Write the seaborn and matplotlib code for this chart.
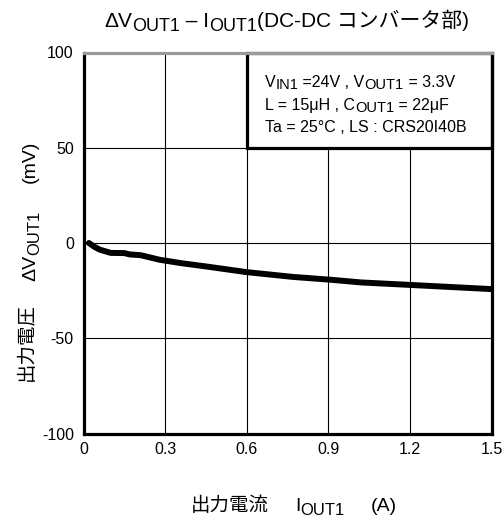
import matplotlib
matplotlib.use("Agg")
import numpy as np
import pandas as pd
import seaborn as sns
import matplotlib.pyplot as plt
from matplotlib.transforms import IdentityTransform
from matplotlib.patches import Rectangle

# ---- data ----
current_a = [0.02, 0.04, 0.06, 0.10, 0.15, 0.17, 0.21, 0.28, 0.36, 0.45,
             0.60, 0.77, 0.91, 1.02, 1.20, 1.35, 1.50]
delta_mv = [0.0, -2.0, -3.5, -5.2, -5.3, -6.0, -6.4, -8.8, -10.6, -12.3,
            -15.3, -17.8, -19.3, -20.7, -22.0, -23.1, -24.2]
x_ticks = [0, 0.3, 0.6, 0.9, 1.2, 1.5]
x_tick_labels = ["0", "0.3", "0.6", "0.9", "1.2", "1.5"]
y_ticks = [-100, -50, 0, 50, 100]
y_tick_labels = ["-100", "-50", "0", "50", "100"]

sns.set_theme(style="white")
plt.rcParams["font.family"] = ["Liberation Sans", "Noto Sans CJK JP"]
plt.rcParams["axes.unicode_minus"] = False

W, H = 504, 518
fig = plt.figure(figsize=(W / 100, H / 100), dpi=100)
fig.patch.set_facecolor("white")
ax = fig.add_axes([83.5 / W, 1 - 433.5 / H, 408 / W, 381 / H])

df = pd.DataFrame({"I": current_a, "dV": delta_mv})
sns.lineplot(data=df, x="I", y="dV", ax=ax, color="black", linewidth=4.3,
             solid_capstyle="round", zorder=3)

ax.set_xlim(0, 1.5)
ax.set_ylim(-100, 100)
ax.set_xticks(x_ticks, x_tick_labels)
ax.set_yticks(y_ticks, y_tick_labels)
ax.tick_params(length=0, labelsize=11.5, labelcolor="black")
ax.tick_params(axis="y", pad=7)
ax.tick_params(axis="x", pad=6)
ax.grid(True, color="black", linewidth=0.8)
ax.set_xlabel("")
ax.set_ylabel("")
for s in ["left", "bottom", "right"]:
    ax.spines[s].set(color="black", linewidth=2.3, visible=True)
ax.spines["top"].set(color="#9a9a9a", linewidth=2.3, visible=True)

# condition box
ax.add_patch(Rectangle((0.401, 0.750), 0.599, 0.25, transform=ax.transAxes,
                       facecolor="white", edgecolor="black", linewidth=2.3,
                       zorder=2.4, clip_on=False))

renderer = fig.canvas.get_renderer()


def rich(segs, x, y, ha="center", rotation=0):
    """segs: (text, fontsize, dy_px_down, gap_before_px); x, y in pixels from top-left."""
    y = H - y
    arts = []
    widths = []
    for s, fs, dy, gap in segs:
        t = fig.text(0, 0, s, fontsize=fs, transform=IdentityTransform(),
                     ha="left", va="baseline", color="black")
        widths.append(gap + t.get_window_extent(renderer).width)
        t.set_rotation(rotation)
        t.set_rotation_mode("anchor")
        arts.append((t, dy, gap))
    total = sum(widths)
    pos = {"center": -total / 2, "left": 0, "right": -total}[ha]
    for (t, dy, gap), w in zip(arts, widths):
        if rotation == 90:
            t.set_position((x + dy, y + pos + gap))
        else:
            t.set_position((x + pos + gap, y - dy))
        pos += w


# title
rich([("ΔV", 15, 0, 0), ("OUT1", 13, 4, 0), (" – I", 15, 0, 0),
      ("OUT1", 13, 4, 0), ("(DC-DC コンバータ部)", 15, 0, 0)], 287, 27)

# condition text
rich([("V", 11.5, 0, 0), ("IN1", 10.5, 2.5, 0), (" =24V , V", 11.5, 0, 0),
      ("OUT1", 10.5, 2.5, 0), (" = 3.3V", 11.5, 0, 0)], 265, 86.7, ha="left")
rich([("L = 15μH , C", 11.5, 0, 0), ("OUT1", 10.5, 2.5, 0), (" = 22μF", 11.5, 0, 0)],
     265, 110, ha="left")
rich([("Ta = 25°C , LS : CRS20I40B", 11.5, 0, 0)], 265, 131.7, ha="left")

# x label
rich([("出力電流", 14, 0, 0), ("I", 14, 0, 26), ("OUT1", 12, 4, 0),
      ("(A)", 14, 0, 26)], 294, 511)

# y label
rich([("出力電圧", 14, -3, 0), ("ΔV", 14, 0, 22), ("OUT1", 12, 4, 0),
      ("(mV)", 14, 0, 28)], 35, 261, rotation=90)

fig.savefig("out.png", dpi=100)
